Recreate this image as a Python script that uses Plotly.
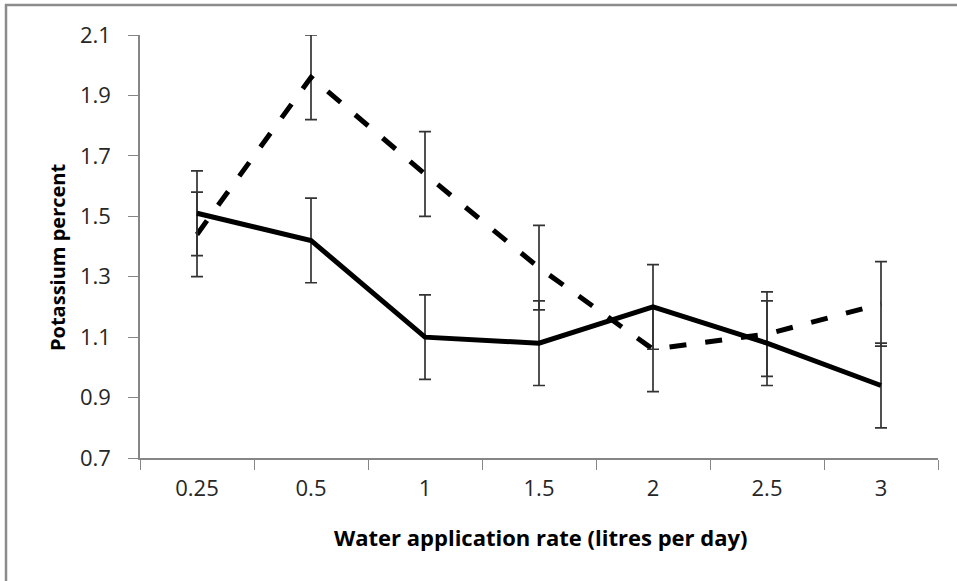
import plotly.graph_objects as go

# Water application rates (categories on the x axis)
rates = ["0.25", "0.5", "1", "1.5", "2", "2.5", "3"]

# Mean potassium content (%) for the two treatments
potassium_solid = [1.51, 1.42, 1.10, 1.08, 1.20, 1.08, 0.94]
potassium_dashed = [1.44, 1.96, 1.64, 1.33, 1.06, 1.11, 1.21]

# Error bar half-widths
err_solid = [0.14, 0.14, 0.14, 0.14, 0.14, 0.14, 0.14]
err_dashed = [0.14, 0.14, 0.14, 0.14, 0.14, 0.14, 0.14]

y_ticks = [0.7, 0.9, 1.1, 1.3, 1.5, 1.7, 1.9, 2.1]

W, H = 957, 581
L, R, T, B = 140, 19, 35, 123
plot_w = W - L - R
plot_h = H - T - B


def px_x(p):
    return (p - L) / plot_w


def px_y(p):
    return (H - B - p) / plot_h


FONT = "Open Sans, Lato, DejaVu Sans, sans-serif"
ERR_COLOR = "#333333"
AXIS_COLOR = "#868686"
TICK_FONT = dict(family=FONT, size=22, color="#262626")

fig = go.Figure()

fig.add_trace(go.Scatter(
    x=rates, y=potassium_dashed, mode="lines", name="dashed",
    line=dict(color="black", width=5, dash="17px,19px"),
    error_y=dict(type="data", array=err_dashed, visible=True,
                 color=ERR_COLOR, thickness=1.7, width=6),
    showlegend=False, hoverinfo="x+y",
))
fig.add_trace(go.Scatter(
    x=rates, y=potassium_solid, mode="lines", name="solid",
    line=dict(color="black", width=5),
    error_y=dict(type="data", array=err_solid, visible=True,
                 color=ERR_COLOR, thickness=1.7, width=6),
    showlegend=False, hoverinfo="x+y",
))

fig.update_xaxes(
    type="category", range=[-0.5, 6.5],
    showline=True, linecolor=AXIS_COLOR, linewidth=1.5,
    ticks="outside", tickson="boundaries", ticklen=10, tickwidth=1.2,
    tickcolor=AXIS_COLOR, showgrid=False, zeroline=False,
    tickfont=TICK_FONT, ticklabelstandoff=10,
)
fig.update_yaxes(
    range=[0.7, 2.1], tickvals=y_ticks, tickformat=".1f",
    showline=True, linecolor=AXIS_COLOR, linewidth=1.5,
    ticks="outside", ticklen=10, tickwidth=1.2, tickcolor=AXIS_COLOR,
    showgrid=False, zeroline=False,
    tickfont=TICK_FONT, ticklabelstandoff=13,
)

annotations = [
    dict(text="<b>Water application rate (litres per day)</b>",
         xref="paper", yref="paper", x=px_x(540), y=px_y(537),
         xanchor="center", yanchor="middle", showarrow=False,
         font=dict(family=FONT, size=22, color="black")),
    dict(text="<b>Potassium percent</b>",
         xref="paper", yref="paper", x=px_x(57), y=px_y(258),
         xanchor="center", yanchor="middle", showarrow=False, textangle=-90,
         font=dict(family=FONT, size=20, color="black")),
]

# Chart frame (top and left edges)
shapes = [
    dict(type="line", xref="paper", yref="paper",
         x0=px_x(5), x1=px_x(960), y0=px_y(5), y1=px_y(5),
         line=dict(color="#8c8c8c", width=2.5)),
    dict(type="line", xref="paper", yref="paper",
         x0=px_x(6), x1=px_x(6), y0=px_y(4), y1=px_y(590),
         line=dict(color="#8c8c8c", width=2.5)),
]

fig.update_layout(
    width=W, height=H,
    margin=dict(l=L, r=R, t=T, b=B),
    paper_bgcolor="white", plot_bgcolor="white",
    annotations=annotations, shapes=shapes,
    showlegend=False,
)

fig.write_html("out.html")
